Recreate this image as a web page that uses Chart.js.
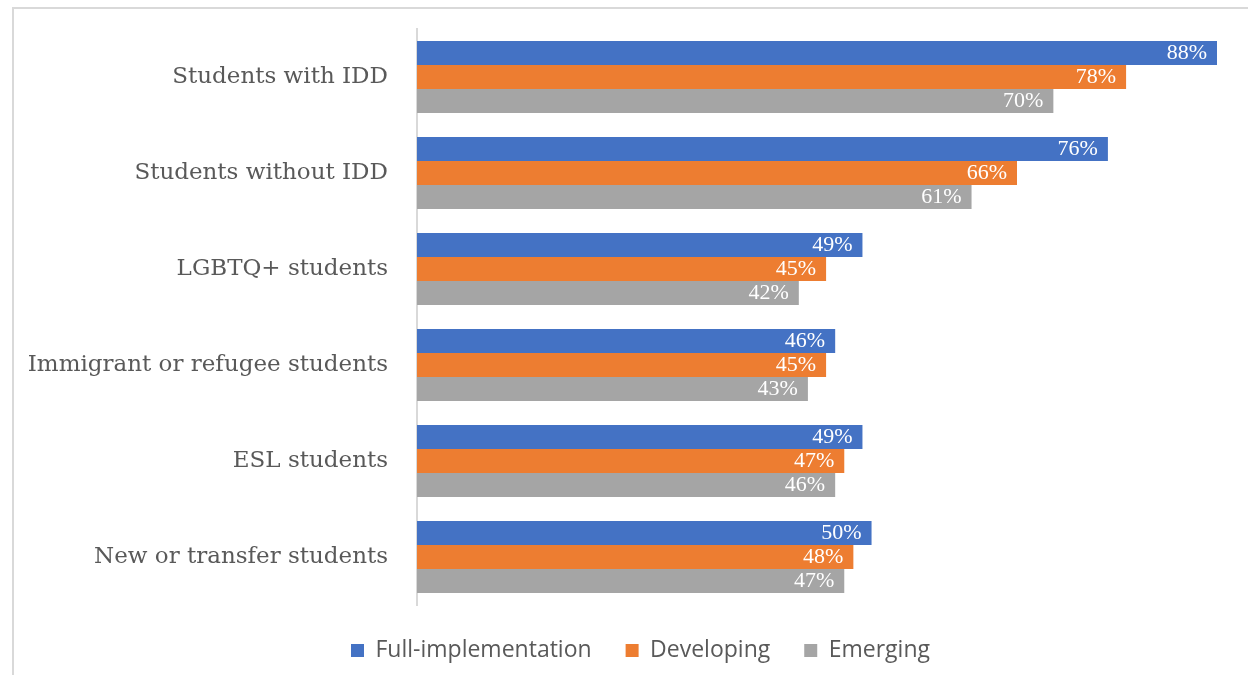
<!DOCTYPE html>
<html>
<head>
<meta charset="utf-8">
<script src="https://cdn.jsdelivr.net/npm/chart.js@4"></script>
<style>
  html, body { margin: 0; padding: 0; background: #fff; }
  #wrap { position: relative; width: 1248px; height: 675px; overflow: hidden; }
  #frame { position: absolute; left: 12px; top: 7px; width: 1300px; height: 700px;
           border-left: 2px solid #d9d9d9; border-top: 2px solid #d9d9d9; }
  canvas { position: absolute; left: 0; top: 0; }
</style>
</head>
<body>
<div id="wrap">
  <div id="frame"></div>
  <canvas id="groupChart" width="1248" height="675"></canvas>
</div>
<script>
const categories = ["Students with IDD", "Students without IDD", "LGBTQ+ students",
  "Immigrant or refugee students", "ESL students", "New or transfer students"];
const fullImpl = [88, 76, 49, 46, 49, 50];
const developing = [78, 66, 45, 45, 47, 48];
const emerging = [70, 61, 42, 43, 46, 47];

const seriesNames = ["Full-implementation", "Developing", "Emerging"];
const barColors = ["#4472C4", "#ED7D31", "#A5A5A5"];

// white % labels at the end of each bar
const barLabels = {
  id: "barLabels",
  afterDatasetsDraw(chart) {
    const ctx = chart.ctx;
    ctx.save();
    ctx.font = "22px 'Liberation Serif'";
    ctx.fillStyle = "#ffffff";
    ctx.textAlign = "right";
    ctx.textBaseline = "middle";
    chart.data.datasets.forEach(function (ds, i) {
      chart.getDatasetMeta(i).data.forEach(function (bar, j) {
        ctx.fillText(ds.data[j] + "%", bar.x - 10, bar.y);
      });
    });
    ctx.restore();
  }
};

// legend in the original is centred on the whole frame, not the plot
const shiftLegend = {
  id: "shiftLegend",
  beforeDraw(chart) {
    chart.legend.left = 64;
  }
};

new Chart("groupChart", {
  type: "bar",
  data: {
    labels: categories,
    datasets: [
      { label: seriesNames[0], data: fullImpl, backgroundColor: barColors[0] },
      { label: seriesNames[1], data: developing, backgroundColor: barColors[1] },
      { label: seriesNames[2], data: emerging, backgroundColor: barColors[2] }
    ]
  },
  options: {
    indexAxis: "y",
    responsive: false,
    animation: false,
    layout: { padding: { top: 29, right: 31, left: 0, bottom: 3 } },
    datasets: { bar: { categoryPercentage: 0.75, barPercentage: 1.0 } },
    scales: {
      x: { display: false, min: 0, max: 88 },
      y: {
        grid: { display: false, drawTicks: false },
        border: { color: "#d9d9d9", width: 2 },
        ticks: {
          color: "#595959",
          font: { family: "'DejaVu Serif'", size: 23 },
          padding: 29
        },
        afterFit: function (scale) {
          scale.width = 417;
          scale.paddingTop = 0;
          scale.paddingBottom = 0;
        }
      }
    },
    plugins: {
      tooltip: { enabled: false },
      legend: {
        position: "bottom",
        labels: {
          color: "#595959",
          font: { family: "'Open Sans'", size: 23 },
          boxWidth: 13,
          boxHeight: 13,
          padding: 34
        }
      }
    }
  },
  plugins: [barLabels, shiftLegend]
});
</script>
</body>
</html>
